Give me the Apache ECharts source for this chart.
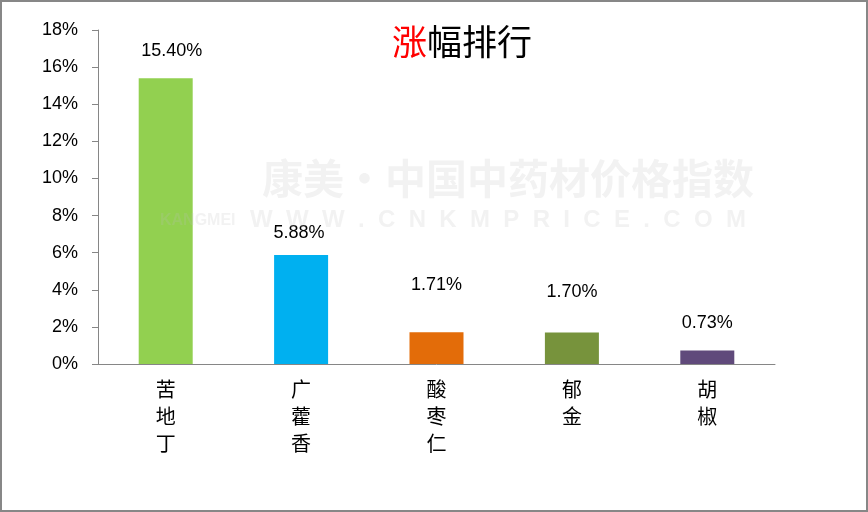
<!DOCTYPE html>
<html><head><meta charset="utf-8">
<script src="https://cdn.jsdelivr.net/npm/echarts@6/dist/echarts.min.js"></script>
<style>
html,body{margin:0;padding:0;background:#fff;}
#frame{width:868px;height:512px;box-sizing:border-box;border:2px solid #878787;position:relative;}
#c{position:absolute;left:-2px;top:-2px;width:868px;height:512px;}
</style></head>
<body><div id="frame"><div id="c"></div></div>
<script>
const categories = ['苦地丁','广藿香','酸枣仁','郁金','胡椒'];
const values = [15.40, 5.88, 1.71, 1.70, 0.73];
const barColors = ['#92D050','#00B0F0','#E36C09','#77933C','#604A7B'];
const yTicks = {min:0, max:18, interval:2};
// label placement style (manually placed labels in the original)
const labelGap = [18, 13, 38, 31, 18];
const labelShiftX = [6, -2, 0, 0, 0];

const chart = echarts.init(document.getElementById('c'), null, {renderer:'canvas'});
const font = '"Liberation Sans", "Noto Sans CJK SC", sans-serif';
chart.setOption({
  animation:false,
  backgroundColor:'transparent',
  title:{
    text:'{r|涨}{b|幅排行}', left:387, top:19,
    textStyle:{fontWeight:'normal', rich:{
      r:{color:'#FF0000', fontSize:35, fontWeight:'normal', fontFamily:'"Noto Sans CJK SC", sans-serif'},
      b:{color:'#000', fontSize:35, fontWeight:'normal', fontFamily:'"Noto Sans CJK SC", sans-serif'}
    }}
  },
  graphic:[
    {type:'text', left:262, top:158, z:100, silent:true, style:{text:'康美·中国中药材价格指数', fill:'rgba(190,190,190,0.2)', font:'bold 41px "Noto Sans CJK SC", sans-serif'}},
    {type:'text', left:160, top:213, z:100, silent:true, style:{text:'KANGMEI', fill:'rgba(190,190,190,0.2)', font:'bold 16px "Liberation Sans", sans-serif'}},
    {type:'text', left:250, top:208, z:100, silent:true, style:{text:'W  W  W  .  C  N  K  M  P  R  I  C  E  .  C  O  M', fill:'rgba(190,190,190,0.2)', font:'bold 24px "Liberation Sans", sans-serif'}}
  ],
  grid:{left:98, right:93, top:30, bottom:148, containLabel:false},
  xAxis:{
    type:'category', data:categories,
    axisLine:{lineStyle:{color:'#868686', width:1}},
    axisTick:{show:false},
    axisLabel:{
      color:'#000', fontSize:20, fontFamily:'"Noto Sans CJK SC", sans-serif', lineHeight:27, margin:12,
      formatter:v=>v.split('').join('\n')
    }
  },
  yAxis:{
    type:'value', min:yTicks.min, max:yTicks.max, interval:yTicks.interval,
    axisLine:{show:true, lineStyle:{color:'#868686', width:1}},
    axisTick:{show:true, length:6, lineStyle:{color:'#868686'}},
    splitLine:{show:false},
    axisLabel:{color:'#000', fontSize:18, fontFamily:font, margin:20, formatter:v=>v+'%'}
  },
  series:[{
    type:'bar', barWidth:54,
    data:values.map((v,i)=>({value:v, itemStyle:{color:barColors[i]},
      label:{distance:labelGap[i], offset:[labelShiftX[i],0]}})),
    label:{show:true, position:'top', color:'#000', fontSize:18, fontFamily:font,
      formatter:p=>p.value.toFixed(2)+'%'}
  }]
});
</script></body></html>
